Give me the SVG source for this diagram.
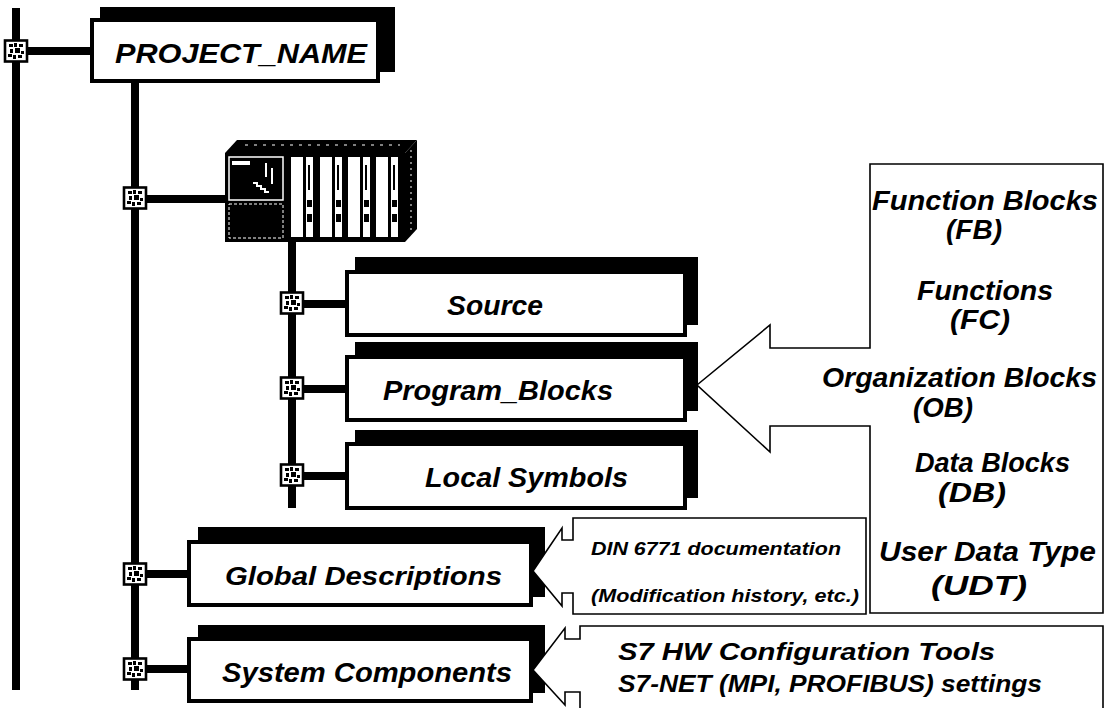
<svg xmlns="http://www.w3.org/2000/svg" width="1107" height="708" viewBox="0 0 1107 708">
  <style>
    .shadow { fill: #000; }
    .box { fill: #fff; stroke: #000; stroke-width: 4; }
    .wire { stroke: #000; stroke-width: 8; fill: none; }
    .callout { fill: #fff; stroke: #000; stroke-width: 1.6; stroke-linejoin: miter; }
    .lbl { font-family: "Liberation Sans", Arial, sans-serif; font-weight: bold; font-style: italic; fill: #000; }
    .big { font-size: 28px; }
    .mid { font-size: 27px; }
    .s24 { font-size: 24px; }
    .small { font-size: 19px; }
  </style>
  <defs>
    <!-- junction marker: small framed square with a speckled core -->
    <g id="junction">
      <rect x="-11" y="-10.5" width="22" height="21" fill="#fff" stroke="#000" stroke-width="2.6"/>
      <path fill="#000" d="M-7,-7h4v3h-4z M-2,-8h3v4h-3z M3,-7h4v3h-4z M-6,-2h3v4h-3z M-1,-3h5v5h-5z M5,0h3v3h-3z M-8,3h4v3h-4z M-3,4h3v4h-3z M2,4h4v3h-4z"/>
    </g>
  </defs>

  <rect width="1107" height="708" fill="#fff"/>

  <!-- connectors: buses and branch links -->
  <g id="connectors">
    <line class="wire" x1="16" y1="8" x2="16" y2="690" stroke-width="7"/>
    <line class="wire" x1="27" y1="51" x2="92" y2="51"/>
    <line class="wire" x1="135" y1="81" x2="135" y2="690"/>
    <line class="wire" x1="147" y1="199" x2="227" y2="199"/>
    <line class="wire" x1="292" y1="240" x2="292" y2="508"/>
    <line class="wire" x1="303" y1="304" x2="347" y2="304"/>
    <line class="wire" x1="303" y1="389" x2="347" y2="389"/>
    <line class="wire" x1="303" y1="476" x2="347" y2="476"/>
    <line class="wire" x1="147" y1="574" x2="189" y2="574"/>
    <line class="wire" x1="147" y1="669" x2="189" y2="669"/>
  </g>

  <g id="junctions">
    <use href="#junction" x="16" y="51"/>
    <use href="#junction" x="135" y="198"/>
    <use href="#junction" x="292" y="303"/>
    <use href="#junction" x="292" y="388"/>
    <use href="#junction" x="292" y="475"/>
    <use href="#junction" x="135" y="574"/>
    <use href="#junction" x="135" y="669"/>
  </g>

  <!-- project root -->
  <g id="project-name">
    <rect class="shadow" x="100" y="7" width="295" height="65"/>
    <rect class="box" x="92" y="20" width="286" height="61"/>
    <text class="lbl big" x="115" y="63" textLength="252" lengthAdjust="spacingAndGlyphs">PROJECT_NAME</text>
  </g>

  <!-- S7 station (rack with CPU and four modules) -->
  <g id="station">
    <polygon points="225,153 237,140 417,140 405,153" fill="#000"/>
    <polygon points="405,153 417,140 417,229 405,242" fill="#000"/>
    <line x1="411" y1="150" x2="411" y2="232" stroke="#fff" stroke-width="1" stroke-dasharray="2 4"/>
    <line x1="245" y1="145" x2="400" y2="145" stroke="#fff" stroke-width="1" stroke-dasharray="3 6"/>
    <rect x="225" y="153" width="180" height="89" fill="#000"/>
    <!-- CPU -->
    <rect x="229" y="157" width="54" height="43" fill="#000" stroke="#fff" stroke-width="1.5"/>
    <rect x="232" y="161" width="18" height="4" fill="#fff"/>
    <rect x="265" y="163" width="2" height="14" fill="#fff"/>
    <rect x="271" y="168" width="2" height="16" fill="#fff"/>
    <path d="M253,183 h4 v3 h4 v3 h4 v3 h4" stroke="#fff" stroke-width="2" fill="none"/>
    <rect x="229" y="204" width="54" height="34" fill="#000" stroke="#fff" stroke-width="1" stroke-dasharray="3 2"/>
    <!-- I/O modules -->
    <g fill="#fff">
      <rect x="291" y="157" width="12" height="80"/>
      <rect x="306" y="157" width="7" height="80"/>
      <rect x="320" y="157" width="12" height="80"/>
      <rect x="335" y="157" width="7" height="80"/>
      <rect x="348" y="157" width="12" height="80"/>
      <rect x="363" y="157" width="7" height="80"/>
      <rect x="376" y="157" width="12" height="80"/>
      <rect x="391" y="157" width="7" height="80"/>
    </g>
    <g fill="#000">
      <rect x="307" y="200" width="5" height="7"/>
      <rect x="307" y="214" width="5" height="8"/>
      <rect x="336" y="200" width="5" height="7"/>
      <rect x="336" y="214" width="5" height="8"/>
      <rect x="364" y="200" width="5" height="7"/>
      <rect x="364" y="214" width="5" height="8"/>
      <rect x="392" y="200" width="5" height="7"/>
      <rect x="392" y="214" width="5" height="8"/>
      <rect x="308" y="165" width="2" height="25"/>
      <rect x="337" y="165" width="2" height="25"/>
      <rect x="365" y="165" width="2" height="25"/>
      <rect x="393" y="165" width="2" height="25"/>
    </g>
  </g>

  <g id="source">
    <rect class="shadow" x="355" y="257" width="343" height="68"/>
    <rect class="box" x="347" y="272" width="338" height="63"/>
    <text class="lbl big" x="447" y="315" textLength="96" lengthAdjust="spacingAndGlyphs">Source</text>
  </g>

  <g id="program-blocks">
    <rect class="shadow" x="355" y="342" width="343" height="69"/>
    <rect class="box" x="347" y="357" width="338" height="63"/>
    <text class="lbl big" x="383" y="400" textLength="230" lengthAdjust="spacingAndGlyphs">Program_Blocks</text>
  </g>

  <g id="local-symbols">
    <rect class="shadow" x="355" y="430" width="343" height="68"/>
    <rect class="box" x="347" y="444" width="338" height="64"/>
    <text class="lbl mid" x="425" y="487" textLength="203" lengthAdjust="spacingAndGlyphs">Local Symbols</text>
  </g>

  <g id="global-descriptions">
    <rect class="shadow" x="198" y="527" width="347" height="70"/>
    <rect class="box" x="189" y="542" width="342" height="63"/>
  </g>

  <g id="system-components">
    <rect class="shadow" x="198" y="625" width="347" height="68"/>
    <rect class="box" x="189" y="639" width="342" height="62"/>
  </g>

  <!-- block types callout -->
  <g id="block-types">
    <path class="callout" d="M697,385 L770,325 L770,348 L870,348 L870,164 L1103,164 L1103,613 L870,613 L870,426 L770,426 L770,452 Z"/>
    <text class="lbl mid" x="872" y="210" textLength="226" lengthAdjust="spacingAndGlyphs">Function Blocks</text>
    <text class="lbl mid" x="946" y="239" textLength="56" lengthAdjust="spacingAndGlyphs">(FB)</text>
    <text class="lbl mid" x="917" y="300" textLength="136" lengthAdjust="spacingAndGlyphs">Functions</text>
    <text class="lbl mid" x="950" y="329" textLength="60" lengthAdjust="spacingAndGlyphs">(FC)</text>
    <text class="lbl mid" x="822" y="387" textLength="275" lengthAdjust="spacingAndGlyphs">Organization Blocks</text>
    <text class="lbl mid" x="913" y="417" textLength="60" lengthAdjust="spacingAndGlyphs">(OB)</text>
    <text class="lbl mid" x="915" y="472" textLength="155" lengthAdjust="spacingAndGlyphs">Data Blocks</text>
    <text class="lbl mid" x="938" y="502" textLength="68" lengthAdjust="spacingAndGlyphs">(DB)</text>
    <text class="lbl mid" x="879" y="561" textLength="217" lengthAdjust="spacingAndGlyphs">User Data Type</text>
    <text class="lbl mid" x="931" y="595" textLength="96" lengthAdjust="spacingAndGlyphs">(UDT)</text>
  </g>

  <!-- documentation callout -->
  <g id="documentation">
    <path class="callout" d="M533,571 L562,528 L562,540 L573,540 L573,518 L866,518 L866,614 L573,614 L573,593 L562,593 L562,606 Z"/>
    <text class="lbl small" x="591" y="555" textLength="250" lengthAdjust="spacingAndGlyphs">DIN 6771 documentation</text>
    <text class="lbl small" x="591" y="602" textLength="268" lengthAdjust="spacingAndGlyphs">(Modification history, etc.)</text>
  </g>

  <!-- hardware configuration callout -->
  <g id="hw-config">
    <path class="callout" d="M533,670 L565,628 L565,639 L580,639 L580,626 L1103,626 L1103,714 L580,714 L580,692 L565,692 L565,705 Z"/>
    <text class="lbl s24" x="618" y="660" textLength="377" lengthAdjust="spacingAndGlyphs">S7 HW Configuration Tools</text>
    <text class="lbl s24" x="618" y="692" textLength="424" lengthAdjust="spacingAndGlyphs">S7-NET (MPI, PROFIBUS) settings</text>
  </g>

  <!-- labels of the lower nodes drawn above their callout tips -->
  <text class="lbl" font-size="26" x="225" y="585" textLength="277" lengthAdjust="spacingAndGlyphs">Global Descriptions</text>
  <text class="lbl mid" x="222" y="682" textLength="290" lengthAdjust="spacingAndGlyphs">System Components</text>
</svg>
